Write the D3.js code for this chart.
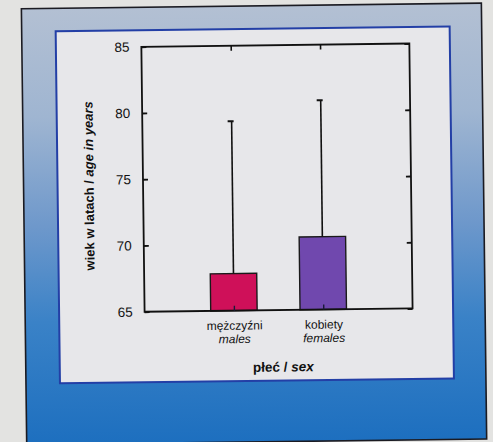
<!DOCTYPE html>
<html>
<head>
<meta charset="utf-8">
<script src="https://cdn.jsdelivr.net/npm/d3@7"></script>
<style>
  html, body { margin: 0; padding: 0; background: #e3e3e1; }
  svg { display: block; }
  text { font-family: "Liberation Sans", Arial, sans-serif; fill: #111; }
</style>
</head>
<body>
<svg id="chart" width="493" height="442"></svg>
<script>
// Mean age at death by sex, with upper error whisker
const categories = ["mężczyźni", "kobiety"];
const categoriesEn = ["males", "females"];
const meanAge = [67.8, 70.5];
const upperAge = [79.3, 80.8];
const barColors = ["#cf1059", "#7048ae"];
const yTicks = [65, 70, 75, 80, 85];

const svg = d3.select("#chart");
const W = 493, H = 442;

const defs = svg.append("defs");
const grad = defs.append("linearGradient")
  .attr("id", "frameFill").attr("x1", 0).attr("y1", 0).attr("x2", 0).attr("y2", 1);
[[0, "#b3c0d3"], [0.25, "#9fb5d1"], [0.5, "#6e98cb"], [0.72, "#3a82c7"], [1, "#1d6fbf"]]
  .forEach(([o, c]) => grad.append("stop").attr("offset", o).attr("stop-color", c));

// whole card is slightly tilted
const root = svg.append("g").attr("transform", `rotate(-0.7, ${W / 2}, ${H / 2})`);

// outer gradient frame
root.append("rect")
  .attr("x", 24).attr("y", 6).attr("width", 460).attr("height", 436)
  .attr("fill", "url(#frameFill)")
  .attr("stroke", "#1b1b22").attr("stroke-width", 1.6);

// inner light panel
root.append("rect")
  .attr("x", 58).attr("y", 29).attr("width", 394).attr("height", 352)
  .attr("fill", "#e7e7ea")
  .attr("stroke", "#233fa6").attr("stroke-width", 2);

const plot = { left: 143.5, right: 411.5, top: 45.5, bottom: 310.5 };

const x = d3.scalePoint()
  .domain(categories)
  .range([plot.left, plot.right])
  .padding(1);

const y = d3.scaleLinear()
  .domain([65, 85])
  .range([plot.bottom, plot.top]);

const barW = x.step() * 0.52;
const g = root.append("g");

// bars
g.selectAll("rect.bar")
  .data(categories)
  .join("rect")
  .attr("class", "bar")
  .attr("x", d => x(d) - barW / 2)
  .attr("y", (d, i) => y(meanAge[i]))
  .attr("width", barW)
  .attr("height", (d, i) => y(65) - y(meanAge[i]))
  .attr("fill", (d, i) => barColors[i])
  .attr("stroke", "#1a1a1a").attr("stroke-width", 1.4);

// upper whiskers with caps
g.selectAll("line.whisker")
  .data(categories)
  .join("line")
  .attr("class", "whisker")
  .attr("x1", d => x(d)).attr("x2", d => x(d))
  .attr("y1", (d, i) => y(meanAge[i]))
  .attr("y2", (d, i) => y(upperAge[i]))
  .attr("stroke", "#111").attr("stroke-width", 1.6);

g.selectAll("line.cap")
  .data(categories)
  .join("line")
  .attr("class", "cap")
  .attr("x1", d => x(d) - 4).attr("x2", d => x(d) + 2)
  .attr("y1", (d, i) => y(upperAge[i]))
  .attr("y2", (d, i) => y(upperAge[i]))
  .attr("stroke", "#111").attr("stroke-width", 2);

// plot frame
g.append("rect")
  .attr("x", plot.left).attr("y", plot.top)
  .attr("width", plot.right - plot.left).attr("height", plot.bottom - plot.top)
  .attr("fill", "none").attr("stroke", "#111").attr("stroke-width", 1.8);

const tickLen = 5;

// left axis: ticks point inward, labels outside
const yAxisL = d3.axisLeft(y).tickValues(yTicks).tickSizeInner(-tickLen).tickSizeOuter(0).tickPadding(12);
const gl = g.append("g").attr("transform", `translate(${plot.left},0)`).call(yAxisL);
gl.select(".domain").remove();
gl.selectAll(".tick line").attr("stroke", "#111").attr("stroke-width", 1.8);
gl.selectAll(".tick text")
  .style("font-family", '"Liberation Sans", Arial, sans-serif')
  .style("font-size", "13.5px").attr("fill", "#111");

// right axis: inward ticks only
const yAxisR = d3.axisRight(y).tickValues(yTicks).tickSizeInner(-tickLen).tickSizeOuter(0).tickFormat("");
const gr = g.append("g").attr("transform", `translate(${plot.right},0)`).call(yAxisR);
gr.select(".domain").remove();
gr.selectAll(".tick line").attr("stroke", "#111").attr("stroke-width", 1.8);

// top axis: inward ticks at categories
const xAxisT = d3.axisTop(x).tickSizeInner(-tickLen).tickSizeOuter(0).tickFormat("");
const gt = g.append("g").attr("transform", `translate(0,${plot.top})`).call(xAxisT);
gt.select(".domain").remove();
gt.selectAll(".tick line").attr("stroke", "#111").attr("stroke-width", 1.6);

// bottom axis: inward ticks, two-line bilingual labels
const xAxisB = d3.axisBottom(x).tickSizeInner(-tickLen).tickSizeOuter(0).tickFormat("");
const gb = g.append("g").attr("transform", `translate(0,${plot.bottom})`).call(xAxisB);
gb.select(".domain").remove();
gb.selectAll(".tick line").attr("stroke", "#1a1a3a").attr("stroke-width", 1.4);

gb.selectAll(".tick").append("text")
  .attr("y", 19).attr("text-anchor", "middle")
  .style("font-size", "12px").attr("fill", "#111")
  .text(d => d);
gb.selectAll(".tick").append("text")
  .attr("y", 32.5).attr("text-anchor", "middle")
  .style("font-size", "12px").style("font-style", "italic").attr("fill", "#111")
  .text((d, i) => categoriesEn[i]);

// axis titles
const xt = g.append("text")
  .attr("x", (plot.left + plot.right) / 2 + 4).attr("y", 372)
  .attr("text-anchor", "middle")
  .style("font-size", "13.5px").style("font-weight", "bold");
xt.append("tspan").text("płeć / ");
xt.append("tspan").style("font-style", "italic").text("sex");

const yt = g.append("text")
  .attr("transform", `translate(94,${(plot.top + plot.bottom) / 2 + 6}) rotate(-90)`)
  .attr("text-anchor", "middle")
  .style("font-size", "13px").style("font-weight", "bold");
yt.append("tspan").text("wiek w latach / ");
yt.append("tspan").style("font-style", "italic").text("age in years");
</script>
</body>
</html>
